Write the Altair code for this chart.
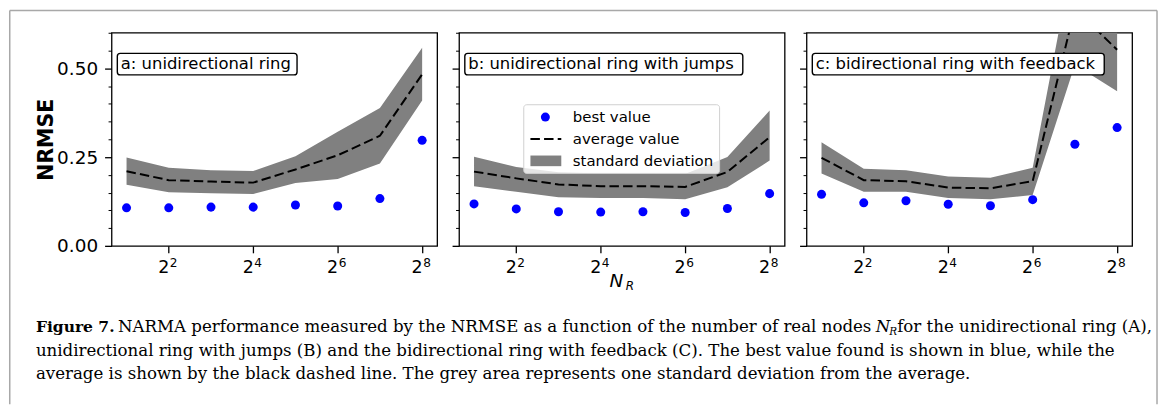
import json
import altair as alt
import pandas as pd

# ---------------- data ----------------
N_R = [2, 4, 8, 16, 32, 64, 128, 256]

best_a = [0.107, 0.107, 0.109, 0.109, 0.115, 0.112, 0.133, 0.297]
mean_a = [0.210, 0.185, 0.181, 0.178, 0.215, 0.255, 0.310, 0.483]
hi_a = [0.249, 0.220, 0.213, 0.211, 0.252, 0.321, 0.388, 0.558]
lo_a = [0.172, 0.151, 0.148, 0.146, 0.177, 0.188, 0.232, 0.409]

best_b = [0.118, 0.104, 0.096, 0.095, 0.096, 0.094, 0.105, 0.147]
mean_b = [0.209, 0.190, 0.173, 0.168, 0.168, 0.166, 0.208, 0.306]
hi_b = [0.251, 0.222, 0.207, 0.204, 0.203, 0.202, 0.250, 0.381]
lo_b = [0.168, 0.152, 0.137, 0.135, 0.135, 0.131, 0.165, 0.240]

best_c = [0.145, 0.121, 0.127, 0.117, 0.113, 0.130, 0.286, 0.333]
mean_c = [0.248, 0.185, 0.182, 0.164, 0.162, 0.182, 0.668, 0.552]
hi_c = [0.292, 0.217, 0.213, 0.195, 0.192, 0.220, 0.840, 0.670]
lo_c = [0.204, 0.152, 0.152, 0.135, 0.131, 0.143, 0.510, 0.435]

panel_titles = ["a: unidirectional ring",
                "b: unidirectional ring with jumps",
                "c: bidirectional ring with feedback"]
legend_labels = ["best value", "average value", "standard deviation"]

x_tick_values = [4, 16, 64, 256]
x_tick_base = ["2", "2", "2", "2"]
x_tick_exp = ["2", "4", "6", "8"]
y_tick_values = [0, 0.05, 0.1, 0.15, 0.2, 0.25, 0.3, 0.35, 0.4, 0.45, 0.5, 0.55, 0.6]
y_major = [0, 0.25, 0.5]

caption_bold = "Figure 7."
caption_l1a = "NARMA performance measured by the NRMSE as a function of the number of real nodes"
caption_l1b = "for the unidirectional ring (A),"
caption_l2 = ("unidirectional ring with jumps (B) and the bidirectional ring with feedback (C). "
              "The best value found is shown in blue, while the")
caption_l3 = ("average is shown by the black dashed line. The grey area represents one standard "
              "deviation from the average.")

# ---------------- styling ----------------
W, H = 327, 214
FONT = "DejaVu Sans"
SERIF = "DejaVu Serif"
CAP = 16.7
DASH = [9.5, 4.2]
one = pd.DataFrame({"k": [0]})
ticks_df = pd.DataFrame({"N": x_tick_values, "base": x_tick_base, "exp": x_tick_exp})

x_scale = alt.Scale(type="log", base=2, domain=[2 ** 0.645, 2 ** 8.355], nice=False)
y_scale = alt.Scale(domain=[0, 0.6], nice=False, zero=False)

major_test = "indexof(%s, datum.value) >= 0" % json.dumps(y_major)

x_axis = alt.Axis(values=x_tick_values, tickSize=7, tickWidth=1.3, labels=False,
                  title=None, grid=False, domain=False)


def y_axis(show_labels, title=None):
    kw = dict(
        values=y_tick_values,
        tickSize={"condition": {"test": major_test, "value": 7}, "value": 3.5},
        tickWidth={"condition": {"test": major_test, "value": 1.3}, "value": 1.0},
        grid=False, domain=False, labels=show_labels,
        labelExpr="%s ? format(datum.value, '.2f') : ''" % major_test,
        labelFontSize=18.5, labelPadding=7,
    )
    if title is not None:
        kw.update(title=title, titleFont=FONT, titleFontWeight="bold", titleFontSize=20.5,
                  titlePadding=0, titleColor="black")
    else:
        kw.update(title=None)
    return alt.Axis(**kw)


def panel(best, mean, lo, hi, title, box_right, yax, extras):
    df = pd.DataFrame({"N": N_R, "best": best, "mean": mean, "lo": lo, "hi": hi})
    base = alt.Chart(df)
    x = alt.X("N:Q", scale=x_scale, axis=x_axis)
    band = base.mark_area(color="#808080", opacity=1, clip=True).encode(
        x=x, y=alt.Y("lo:Q", scale=y_scale, axis=yax), y2="hi:Q")
    line = base.mark_line(color="black", strokeDash=DASH, strokeWidth=2, clip=True).encode(
        x=x, y=alt.Y("mean:Q", scale=y_scale, axis=yax))
    pts = base.mark_circle(color="#0000ff", size=82, opacity=1).encode(
        x=x, y=alt.Y("best:Q", scale=y_scale, axis=yax))
    tl_base = alt.Chart(ticks_df).mark_text(font=FONT, fontSize=17.5, align="right",
                                            baseline="alphabetic", color="black", dx=0.5).encode(
        x=alt.X("N:Q", scale=x_scale), y=alt.value(H + 27.7), text="base:N")
    tl_exp = alt.Chart(ticks_df).mark_text(font=FONT, fontSize=12.2, align="left",
                                           baseline="alphabetic", color="black", dx=1).encode(
        x=alt.X("N:Q", scale=x_scale), y=alt.value(H + 20.8), text="exp:N")
    box = alt.Chart(one).mark_rect(fill="white", stroke="black", strokeWidth=1.4, cornerRadius=3).encode(
        x=alt.value(5.8), x2=alt.value(box_right), y=alt.value(20.7), y2=alt.value(42.3))
    txt = alt.Chart(one).mark_text(font=FONT, fontSize=16.5, align="left", baseline="middle",
                                   color="black").encode(
        x=alt.value(9.3), y=alt.value(31.8), text=alt.value(title))
    return alt.layer(band, line, pts, tl_base, tl_exp, box, txt, *extras).properties(width=W, height=H)


def t(s, x, y, size, baseline="alphabetic", **kw):
    return alt.Chart(one).mark_text(align="left", baseline=baseline, fontSize=size,
                                    color="black", **kw).encode(
        x=alt.value(x), y=alt.value(y), text=alt.value(s))


def rule(x1, y1, x2, y2, **kw):
    return alt.Chart(one).mark_rule(**kw).encode(
        x=alt.value(x1), x2=alt.value(x2), y=alt.value(y1), y2=alt.value(y2))


# border of the figure box + caption (positioned relative to panel a)
border_kw = dict(color="#a8a8a8", strokeWidth=1.5)
extras_a = [
    rule(-102.25, -22.25, 1050, -22.25, **border_kw),
    rule(-102.25, -22.25, -102.25, 373, **border_kw),
    rule(1050, -22.25, 1050, 373, **border_kw),
    t(caption_bold, -76, 300.7, 15.6, font=SERIF, fontWeight="bold"),
    t(caption_l1a, 6.5, 300.7, CAP, font=SERIF),
    t("N", 767.5, 300.7, CAP, font=SERIF, fontStyle="italic"),
    t("R", 781, 303.7, 10.5, font=SERIF, fontStyle="italic"),
    t(caption_l1b, 789, 300.7, CAP, font=SERIF),
    t(caption_l2, -76, 324.5, CAP, font=SERIF),
    t(caption_l3, -76, 348, CAP, font=SERIF),
]

extras_b = [
    alt.Chart(one).mark_rect(fill="white", fillOpacity=0.8, stroke="#d0d0d0", strokeWidth=1,
                             cornerRadius=3).encode(
        x=alt.value(65), x2=alt.value(261.7), y=alt.value(72.3), y2=alt.value(141.3)),
    alt.Chart(one).mark_circle(color="#0000ff", size=82, opacity=1).encode(
        x=alt.value(86.7), y=alt.value(84.7)),
    rule(71.7, 106.7, 102.7, 106.7, color="black", strokeDash=DASH, strokeWidth=2),
    alt.Chart(one).mark_rect(fill="#808080").encode(
        x=alt.value(71.7), x2=alt.value(102.7), y=alt.value(123.3), y2=alt.value(134)),
    t(legend_labels[0], 114.3, 84.7, 15, baseline="middle", font=FONT),
    t(legend_labels[1], 114.3, 106.7, 15, baseline="middle", font=FONT),
    t(legend_labels[2], 114.3, 128.7, 15, baseline="middle", font=FONT),
    t("N", 151.2, 255.7, 18.5, font=FONT, fontStyle="italic"),
    t("R", 167.5, 258.6, 12, font=FONT, fontStyle="italic"),
]

pa = panel(best_a, mean_a, lo_a, hi_a, panel_titles[0], 186.3, y_axis(True, "NRMSE"), extras_a)
pb = panel(best_b, mean_b, lo_b, hi_b, panel_titles[1], 285, y_axis(False), extras_b)
pc = panel(best_c, mean_c, lo_c, hi_c, panel_titles[2], 299, y_axis(False), [])

chart = alt.hconcat(pa, pb, pc, spacing=22, bounds="flush").properties(
    padding=0, background="white"
).configure_view(
    stroke="black", strokeWidth=1.3
).configure_axis(
    labelFont=FONT, labelColor="black", tickColor="black", domainColor="black"
)

chart.save("out.html", embed_options={"renderer": "svg", "actions": False})
